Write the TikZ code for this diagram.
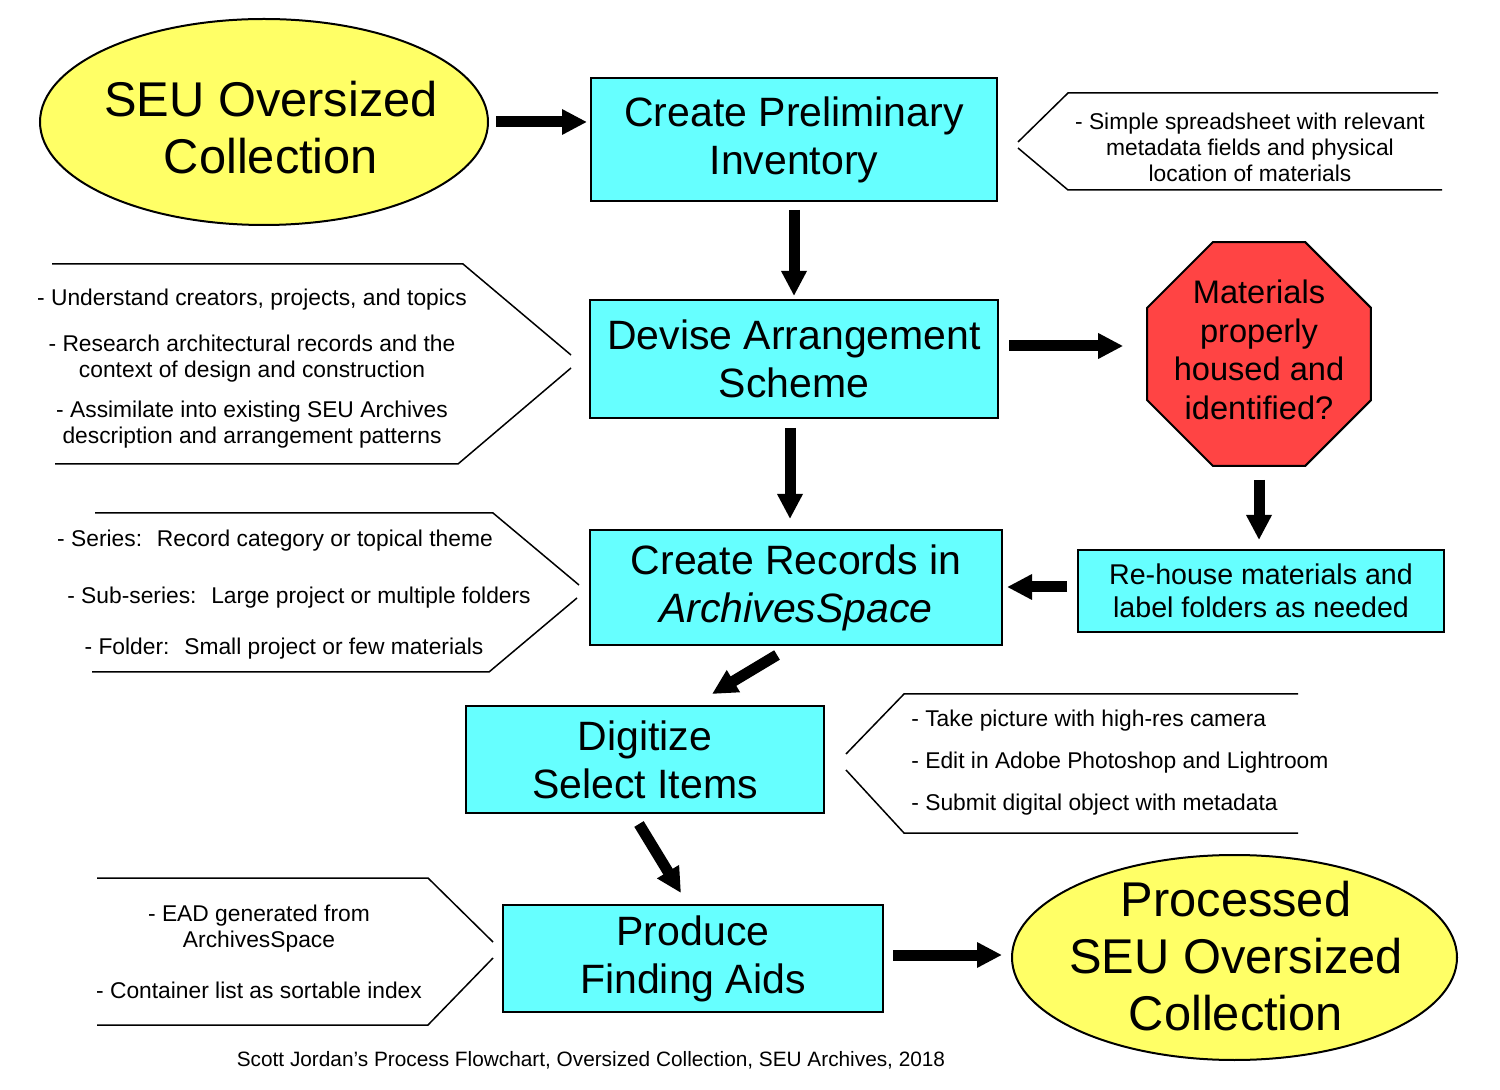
\documentclass[tikz,border=0pt]{standalone}
\usepackage{fontspec}
\setmainfont{Liberation Sans}
\usepackage{tikz}
\usetikzlibrary{calc, positioning, arrows.meta, shapes.geometric}
\definecolor{boxcyan}{HTML}{66FFFF}
\definecolor{ovalyellow}{HTML}{FFFF66}
\definecolor{stopred}{HTML}{FF4444}

\begin{document}
\begin{tikzpicture}[x=0.5pt, y=-0.5pt,
    stepbox/.style={draw, line width=1pt, fill=boxcyan, align=center,
      inner sep=0pt, font=\fontsize{20.5}{24}\selectfont},
    oval/.style={draw, line width=1pt, fill=ovalyellow, ellipse, inner sep=0pt},
    ovaltext/.style={align=center, font=\fontsize{24.4}{28.5}\selectfont},
    notetext/.style={align=center, font=\fontsize{11.4}{13}\selectfont},
    noteline/.style={line width=0.75pt},
    bigarrow/.style={line width=5.5pt, -{Triangle[length=12.5pt, width=12pt]}}]
      \path[use as bounding box, fill=white] (0,0) rectangle (1500,1090);

      % main flow
      \node[oval, minimum width=224pt, minimum height=103pt] (seu) at (264,122) {};
      \node[ovaltext] (seu-text) at (271,128) {SEU Oversized\\Collection};

      \node[stepbox, minimum width=203pt, minimum height=61.5pt] (prelim)
        at (794,139.5) {Create Preliminary\\Inventory};
      \node[stepbox, minimum width=204pt, minimum height=59pt] (devise)
        at (794,359) {Devise Arrangement\\Scheme};
      \node[stepbox, minimum width=206pt, minimum height=57.5pt] (records)
        at (796,587.5) {Create Records in\\\textit{ArchivesSpace}};
      \node[stepbox, minimum width=179pt, minimum height=53.5pt] (digitize)
        at (645,759.5) {Digitize\\Select Items};
      \node[stepbox, minimum width=190pt, minimum height=53.5pt] (produce)
        at (693,958.5) {Produce\\Finding Aids};

      \node[oval, minimum width=222.5pt, minimum height=102.5pt] (done) at (1234.5,957.5) {};
      \node[ovaltext] (done-text) at (1236,956.5) {Processed\\SEU Oversized\\Collection};

      % side check
      \node[draw, line width=1pt, fill=stopred, regular polygon, regular polygon sides=8,
        minimum size=121pt, inner sep=0pt] (check) at (1259,354) {};
      \node[align=center, font=\fontsize{16.3}{19.3}\selectfont] (check-text)
        at (1259,350) {Materials\\properly\\housed and\\identified?};
      \node[stepbox, minimum width=183pt, minimum height=41pt,
        font=\fontsize{14.3}{16.5}\selectfont] (rehouse)
        at (1261,591) {Re-house materials and\\label folders as needed};

      % arrows
      \draw[bigarrow, shorten <=3.5pt, shorten >=1.5pt] (seu.east) -- (seu.east -| prelim.west);
      \draw[bigarrow, shorten <=4pt, shorten >=1.5pt] (prelim.south) -- (devise.north);
      \draw[bigarrow, shorten <=5pt, shorten >=11.5pt]
        ([yshift=6.5pt]devise.east) -- ([yshift=6.5pt]devise.east -| check.west);
      \draw[bigarrow, shorten <=6.5pt, shorten >=4.5pt] (check.south) -- (check.south |- rehouse.north);
      \draw[bigarrow, shorten <=5pt, shorten >=2pt]
        ([yshift=2pt]rehouse.west) -- ([yshift=2pt]rehouse.west -| records.east);
      \draw[bigarrow, shorten <=4.5pt, shorten >=5pt]
        ([xshift=-2pt]devise.south) -- ([xshift=-2pt]devise.south |- records.north);
      \draw[bigarrow] ($(records.south)+(-19,9)$) -- ($(digitize.north)+(67,-11)$);
      \draw[bigarrow] ($(digitize.south)+(-6,10)$) -- ($(produce.north)+(-12,-11)$);
      \draw[bigarrow, shorten <=4.5pt, shorten >=4.5pt]
        ([yshift=1.75pt]produce.east) -- ([yshift=1.75pt]produce.east -| done.west);

      % notes
      \draw[noteline] (1438,93) -- (1068,93) -- (1018,142);
      \draw[noteline] (1018,148) -- (1068,190) -- (1442,190);
      \node[notetext] (note-prelim) at (1250,147)
        {- Simple spreadsheet with relevant\\metadata fields and physical\\location of materials};

      \draw[noteline] (52,264) -- (463,264) -- (571,355);
      \draw[noteline] (571,368) -- (458,464) -- (55,464);
      \node[notetext] (note-devise) at (252,369)
        {- Understand creators, projects, and topics\\[10pt]
         - Research architectural records and the\\context of design and construction\\[7pt]
         - Assimilate into existing SEU Archives\\description and arrangement patterns};

      \draw[noteline] (95,513) -- (493,513) -- (579,585);
      \draw[noteline] (577,598) -- (489,672) -- (92,672);
      \node[notetext] (note-series) at (275,541) {- Series:~ Record category or topical theme};
      \node[notetext] (note-subseries) at (299,598) {- Sub-series:~ Large project or multiple folders};
      \node[notetext] (note-folder) at (284,649) {- Folder:~ Small project or few materials};

      \draw[noteline] (1298,694) -- (904,694) -- (846,754);
      \draw[noteline] (846,770) -- (904,833) -- (1298,833);
      \node[notetext, align=left, anchor=west, inner xsep=0pt,
        font=\fontsize{11.4}{21}\selectfont] (note-digitize)
        at (911,763) {- Take picture with high-res camera\\- Edit in Adobe Photoshop and Lightroom\\
         - Submit digital object with metadata};

      \draw[noteline] (97,878) -- (428,878) -- (493,942);
      \draw[noteline] (493,958) -- (428,1025) -- (97,1025);
      \node[notetext] (note-produce) at (259,952)
        {- EAD generated from\\ArchivesSpace\\[12.5pt]- Container list as sortable index};

      \node[font=\fontsize{10.4}{12}\selectfont] (credit) at (591,1060)
        {Scott Jordan’s Process Flowchart, Oversized Collection, SEU Archives, 2018};
    \end{tikzpicture}
\end{document}
